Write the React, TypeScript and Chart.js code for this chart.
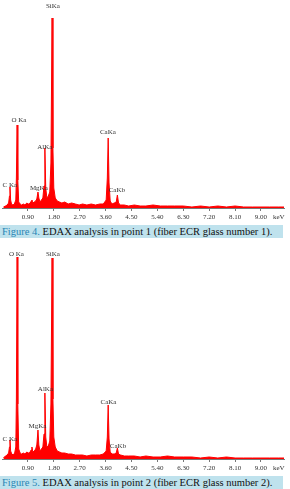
import React, { useEffect, useRef } from "react";
import { Chart, registerables } from "chart.js";

Chart.register(...registerables);

const tickValues = [0.9, 1.8, 2.7, 3.6, 4.5, 5.4, 6.3, 7.2, 8.1, 9.0];
const tickLabels = ["0.90", "1.80", "2.70", "3.60", "4.50", "5.40", "6.30", "7.20", "8.10", "9.00"];
const axisUnit = "keV";
const axisUnitEnergy = 9.62;

const energy1 = [0.05, 0.12, 0.18, 0.23, 0.26, 0.277, 0.3, 0.33, 0.38, 0.43, 0.48, 0.5, 0.525, 0.55, 0.58, 0.63, 0.68, 0.74, 0.8, 0.86, 0.92, 0.98, 1.02, 1.04, 1.07, 1.12, 1.17, 1.21, 1.25, 1.28, 1.32, 1.37, 1.42, 1.46, 1.49, 1.52, 1.56, 1.61, 1.66, 1.7, 1.74, 1.77, 1.8, 1.85, 1.92, 2.0, 2.08, 2.18, 2.3, 2.42, 2.55, 2.68, 2.8, 2.95, 3.1, 3.25, 3.4, 3.52, 3.62, 3.66, 3.69, 3.72, 3.76, 3.82, 3.9, 3.97, 4.01, 4.05, 4.12, 4.25, 4.4, 4.6, 4.8, 5.0, 5.25, 5.5, 5.75, 6.0, 6.3, 6.6, 6.9, 7.2, 7.5, 7.8, 8.1, 8.4, 8.7, 9.0, 9.3, 9.6, 9.8];
const counts1 = [1, 2, 3, 5, 12, 21, 8, 4, 3, 4, 8, 30, 83, 28, 6, 4, 3, 4, 3, 5, 4, 5, 7, 8, 5, 6, 7, 9, 16, 10, 6, 8, 10, 22, 60, 20, 10, 12, 16, 45, 190, 60, 20, 10, 7, 6, 5, 6, 4, 5, 4, 3, 4, 3, 4, 3, 4, 4, 8, 30, 70, 25, 7, 4, 5, 6, 13, 5, 3, 3, 2, 3, 2, 2, 3, 2, 2, 2, 2, 1, 2, 1, 2, 1, 2, 1, 1, 1, 1, 1, 1];

const energy2 = [0.05, 0.12, 0.18, 0.23, 0.26, 0.277, 0.3, 0.34, 0.39, 0.44, 0.48, 0.5, 0.525, 0.55, 0.58, 0.63, 0.68, 0.74, 0.8, 0.86, 0.92, 0.98, 1.01, 1.04, 1.07, 1.12, 1.17, 1.21, 1.25, 1.28, 1.32, 1.37, 1.42, 1.46, 1.49, 1.52, 1.56, 1.61, 1.66, 1.7, 1.74, 1.77, 1.8, 1.85, 1.92, 2.0, 2.08, 2.18, 2.3, 2.42, 2.55, 2.68, 2.8, 2.95, 3.1, 3.25, 3.4, 3.52, 3.62, 3.66, 3.69, 3.72, 3.76, 3.82, 3.9, 3.97, 4.01, 4.05, 4.12, 4.25, 4.4, 4.6, 4.8, 5.0, 5.25, 5.5, 5.75, 6.0, 6.3, 6.6, 6.9, 7.2, 7.5, 7.8, 8.1, 8.4, 8.7, 9.0, 9.3, 9.6, 9.8];
const counts2 = [1, 3, 4, 6, 12, 19, 8, 5, 4, 6, 12, 60, 202, 55, 10, 6, 5, 6, 5, 7, 6, 7, 9, 12, 7, 8, 10, 14, 29, 14, 8, 10, 12, 25, 66, 22, 12, 13, 18, 55, 201, 60, 22, 12, 8, 7, 6, 6, 5, 5, 4, 4, 4, 3, 4, 4, 4, 5, 8, 22, 54, 20, 7, 5, 5, 6, 11, 5, 4, 3, 3, 3, 2, 3, 2, 2, 3, 2, 2, 2, 1, 2, 1, 2, 1, 1, 1, 1, 1, 1, 1];

const peakNames1 = ["C Ka", "O Ka", "MgKa", "AlKa", "SiKa", "CaKa", "CaKb"];
const peakLabelEnergy1 = [0.27, 0.59, 1.28, 1.49, 1.77, 3.68, 3.99];
const peakLabelCounts1 = [23, 88, 20, 61, 202, 76, 18];

const peakNames2 = ["C Ka", "O Ka", "MgKa", "AlKa", "SiKa", "CaKa", "CaKb"];
const peakLabelEnergy2 = [0.27, 0.5, 1.23, 1.51, 1.77, 3.7, 4.03];
const peakLabelCounts2 = [20, 205, 33, 70, 205, 57, 13];

const SERIF = '"Liberation Serif", "DejaVu Serif", serif';

type SpecProps = {
  energy: number[];
  counts: number[];
  names: string[];
  labelE: number[];
  labelC: number[];
  yMax: number;
  padTop: number;
  padBottom: number;
  height: number;
};

function Spectrum(p: SpecProps) {
  const ref = useRef<HTMLCanvasElement | null>(null);
  useEffect(() => {
    if (!ref.current) return;
    const labelPlugin = {
      id: "peakLabels",
      afterDraw(chart: any) {
        const ctx = chart.ctx;
        const xs = chart.scales.x;
        const ys = chart.scales.y;
        ctx.save();
        ctx.font = `7px ${SERIF}`;
        ctx.fillStyle = "#333";
        ctx.textAlign = "center";
        ctx.textBaseline = "middle";
        p.names.forEach((n, i) => {
          ctx.fillText(n, xs.getPixelForValue(p.labelE[i]), ys.getPixelForValue(p.labelC[i]));
        });
        const tickY = xs.top + 9;
        ctx.fillText(axisUnit, xs.getPixelForValue(axisUnitEnergy), tickY);
        ctx.restore();
      },
    };
    const chart = new Chart(ref.current, {
      type: "line",
      data: {
        datasets: [
          {
            data: p.energy.map((e, i) => ({ x: e, y: p.counts[i] })),
            borderColor: "#ff0000",
            backgroundColor: "#ff0000",
            borderWidth: 1,
            fill: "origin",
            pointRadius: 0,
            tension: 0,
            clip: false,
          } as any,
        ],
      },
      options: {
        animation: false,
        responsive: false,
        maintainAspectRatio: false,
        layout: { padding: { left: 2, right: 6, top: p.padTop, bottom: p.padBottom } },
        plugins: { legend: { display: false }, tooltip: { enabled: false } },
        scales: {
          x: {
            type: "linear",
            min: 0,
            max: 9.8,
            afterBuildTicks: (scale: any) => {
              scale.ticks = tickValues.map((v) => ({ value: v }));
            },
            afterFit: (scale: any) => {
              scale.height = 14;
            },
            border: { display: true, color: "#777", width: 1 },
            grid: { display: true, drawOnChartArea: false, drawTicks: true, tickLength: 3, color: "#777" },
            ticks: {
              autoSkip: false,
              maxRotation: 0,
              padding: 2,
              color: "#333",
              font: { family: SERIF, size: 7 },
              callback: (_v: any, i: number) => tickLabels[i],
            },
          },
          y: { display: false, min: 0, max: p.yMax },
        },
      },
      plugins: [labelPlugin],
    } as any);
    return () => chart.destroy();
  }, []);
  return <canvas ref={ref} width={290} height={p.height} style={{ display: "block", width: 290, height: p.height }} />;
}

function Caption({ num, point }: { num: number; point: number }) {
  return (
    <div
      style={{
        width: 283,
        height: 13,
        background: "#bfe2ed",
        fontFamily: SERIF,
        fontSize: 10.5,
        lineHeight: "13px",
        color: "#111",
        whiteSpace: "nowrap",
        overflow: "hidden",
        paddingLeft: 2,
        boxSizing: "border-box",
      }}
    >
      <span style={{ color: "#2a86b5" }}>Figure {num}.</span> EDAX analysis in point {point} (fiber ECR glass number {point}).
    </div>
  );
}

export default function App() {
  return (
    <div style={{ position: "absolute", left: 0, top: 0, width: 290, height: 489, background: "#fff", overflow: "hidden" }}>
      <div style={{ position: "absolute", left: 0, top: 0 }}>
        <Spectrum energy={energy1} counts={counts1} names={peakNames1} labelE={peakLabelEnergy1} labelC={peakLabelCounts1} yMax={200} padTop={8} padBottom={2} height={224} />
      </div>
      <div style={{ position: "absolute", left: 0, top: 225 }}>
        <Caption num={4} point={1} />
      </div>
      <div style={{ position: "absolute", left: 0, top: 238 }}>
        <Spectrum energy={energy2} counts={counts2} names={peakNames2} labelE={peakLabelEnergy2} labelC={peakLabelCounts2} yMax={204} padTop={17} padBottom={1} height={236} />
      </div>
      <div style={{ position: "absolute", left: 0, top: 476 }}>
        <Caption num={5} point={2} />
      </div>
    </div>
  );
}
